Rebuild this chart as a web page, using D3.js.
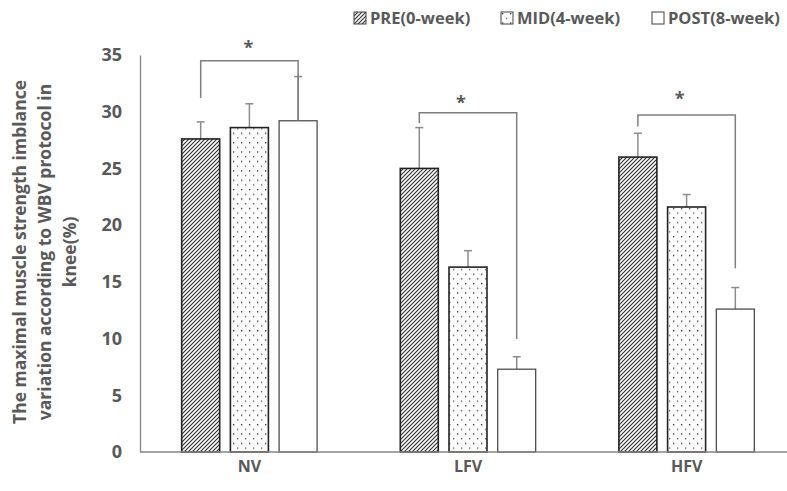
<!DOCTYPE html>
<html><head><meta charset="utf-8">
<script src="https://cdn.jsdelivr.net/npm/d3@7/dist/d3.min.js"></script>
<style>body{margin:0;background:#fff}svg{display:block}text{font-family:"Open Sans",sans-serif;font-weight:bold;fill:#595959}</style>
</head><body><svg id="c" width="787" height="491"></svg>
<script>
const categories = ["NV", "LFV", "HFV"];
const series = ["PRE(0-week)", "MID(4-week)", "POST(8-week)"];
const preValues = [27.6, 25.0, 26.0];
const midValues = [28.6, 16.3, 21.6];
const postValues = [29.2, 7.3, 12.6];
const preErr = [1.5, 3.6, 2.1];
const midErr = [2.1, 1.45, 1.1];
const postErr = [3.9, 1.1, 1.9];
const yTicks = [0, 5, 10, 15, 20, 25, 30, 35];
const yLabelLines = ["The maximal muscle strength imblance", "variation according to WBV protocol in", "knee(%)"];
// significance brackets: from PRE to POST of each group
const bracketCats = ["NV", "LFV", "HFV"];
const bracketTop = [34.5, 29.9, 29.7];
const bracketLeftEnd = [31.2, 29.0, 28.7];
const bracketRightEnd = [29.2, 9.96, 16.2];
const starLevel = [35.9, 31.0, 31.4];

const svg = d3.select("#c");
const defs = svg.append("defs");
const hatch = defs.append("pattern").attr("id","hatch").attr("patternUnits","userSpaceOnUse").attr("width",4).attr("height",4);
hatch.append("rect").attr("width",4).attr("height",4).attr("fill","#fff");
hatch.append("path").attr("d","M-1,1 L1,-1 M0,4 L4,0 M3,5 L5,3").attr("stroke","#333").attr("stroke-width",1.15);
const dots = defs.append("pattern").attr("id","dots").attr("patternUnits","userSpaceOnUse").attr("width",8).attr("height",9.4);
dots.append("rect").attr("width",8).attr("height",9.4).attr("fill","#fff");
dots.append("rect").attr("x",1).attr("y",1).attr("width",1.3).attr("height",1.3).attr("fill","#222");
dots.append("rect").attr("x",5).attr("y",5.7).attr("width",1.3).attr("height",1.3).attr("fill","#555");
const fills = ["url(#hatch)", "url(#dots)", "#fff"];
const strokes = ["#222", "#222", "#404040"];

const y = d3.scaleLinear().domain([0, 35]).range([452, 55]);
const x0 = d3.scaleBand().domain(categories).range([140.1, 795.9]).paddingInner(0).paddingOuter(0);
const groupW = 135.4;
const x1 = d3.scaleBand().domain(series).range([0, groupW]).paddingInner(0.22).paddingOuter(0);
const barX = (c, s) => x0(c) + x0.bandwidth()/2 - groupW/2 + x1(s);
const barC = (c, s) => barX(c, s) + x1.bandwidth()/2;

const valuesBySeries = [preValues, midValues, postValues];
const errBySeries = [preErr, midErr, postErr];
const data = [];
series.forEach((s, si) => categories.forEach((c, ci) => data.push({c, s, si, v: valuesBySeries[si][ci], e: errBySeries[si][ci]})));

// y axis
const yAxis = d3.axisLeft(y).tickValues(yTicks).tickSize(0).tickPadding(18);
const ya = svg.append("g").attr("transform","translate(140,0)").call(yAxis);
ya.select(".domain").attr("stroke","#868686").attr("stroke-width",1.3);
ya.selectAll("text").attr("font-size",18).attr("fill","#595959").style("font-family","'Open Sans',sans-serif").style("font-weight","bold");

// error bars (upper)
const eg = svg.append("g").attr("stroke","#8c8c8c").attr("stroke-width",1.5);
data.forEach(d => {
  const cx = barC(d.c, d.s);
  eg.append("line").attr("x1",cx).attr("x2",cx).attr("y1",y(d.v)).attr("y2",y(d.v+d.e));
  eg.append("line").attr("x1",cx-4).attr("x2",cx+4).attr("y1",y(d.v+d.e)).attr("y2",y(d.v+d.e));
});

// bars
svg.append("g").selectAll("rect").data(data).join("rect")
  .attr("x", d => barX(d.c, d.s)).attr("width", x1.bandwidth())
  .attr("y", d => y(d.v)).attr("height", d => y(0) - y(d.v))
  .attr("fill", d => fills[d.si]).attr("stroke", d => strokes[d.si]).attr("stroke-width", d => d.si===2?1.2:1.6);

// x axis
const xAxis = d3.axisBottom(x0).tickSize(0).tickPadding(9);
const xa = svg.append("g").attr("transform","translate(0,452)").call(xAxis);
xa.select(".domain").remove();
svg.append("line").attr("x1",140).attr("x2",787).attr("y1",452).attr("y2",452).attr("stroke","#868686").attr("stroke-width",1.3);
xa.selectAll("text").attr("font-size",16).attr("fill","#595959").style("font-family","'Open Sans',sans-serif").style("font-weight","bold");

// brackets
const bg = svg.append("g").attr("fill","none").attr("stroke","#7f7f7f").attr("stroke-width",1.5);
bracketCats.forEach((c, i) => {
  const xl = barC(c, series[0]), xr = barC(c, series[2]);
  bg.append("path").attr("d", `M${xl},${y(bracketLeftEnd[i])} V${y(bracketTop[i])} H${xr} V${y(bracketRightEnd[i])}`);
  svg.append("text").attr("x", (xl+xr)/2 - (i===0?1:7)).attr("y", y(starLevel[i]) + 9)
    .attr("text-anchor","middle").attr("font-size",18).attr("fill","#404040").text("*");
});

// y label
const yl = svg.append("text").attr("transform","translate(0,252) rotate(-90)").attr("text-anchor","middle").attr("font-size",17.5).attr("fill","#595959");
yLabelLines.forEach((t, i) => yl.append("tspan").attr("x",0).attr("y", 26 + i*25).text(t));

// legend
const legX = [354, 501, 652];
series.forEach((s, i) => {
  const g = svg.append("g").attr("transform", `translate(${legX[i]},12)`);
  g.append("rect").attr("width",12).attr("height",12).attr("fill",fills[i]).attr("stroke","#404040").attr("stroke-width",1);
  g.append("text").attr("x",16).attr("y",12).attr("font-size",16.5).text(s);
});
</script></body></html>
